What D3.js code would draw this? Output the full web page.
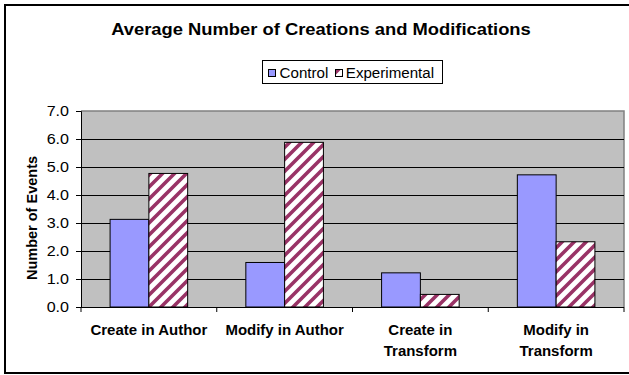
<!DOCTYPE html>
<html><head><meta charset="utf-8">
<script src="https://cdn.jsdelivr.net/npm/d3@7"></script>
<style>body{margin:0;background:#fff}svg{display:block}text{font-family:"Liberation Sans",Arial,sans-serif;fill:#000}</style>
</head><body><svg id="c" width="629" height="375"></svg>
<script>
const categories = [["Create in Author"],["Modify in Author"],["Create in","Transform"],["Modify in","Transform"]];
const seriesNames = ["Control","Experimental"];
const control = [3.13, 1.59, 1.22, 4.72];
const experimental = [4.77, 5.88, 0.45, 2.33];
const yTicks = [0,1,2,3,4,5,6,7];

const svg = d3.select("#c");
const W=629,H=375;
const m = {left:81, right:5, top:111, bottom:68};
const pw = W-m.left-m.right, ph = H-m.top-m.bottom;
function stretch(sel, f){
  sel.each(function(){ const L=this.getComputedTextLength(); d3.select(this).attr("textLength",L*f).attr("lengthAdjust","spacingAndGlyphs"); });
}

// outer frame
svg.append("rect").attr("x",5).attr("y",5).attr("width",640).attr("height",368)
  .attr("fill","#fff").attr("stroke","#000").attr("stroke-width",2);

const P = 12;
const defs = svg.append("defs");
const pat = defs.append("pattern").attr("id","diag").attr("patternUnits","userSpaceOnUse")
  .attr("width",P).attr("height",P);
pat.append("rect").attr("width",P).attr("height",P).attr("fill","#fff");
pat.append("path").attr("d",`M-3,${P+3} L${P+3},-3 M-3,3 L3,-3 M${P-3},${P+3} L${P+3},${P-3}`)
  .attr("stroke","#993366").attr("stroke-width",3.6);

const idx = d3.range(categories.length);
const x = d3.scaleBand().domain(idx).range([m.left, m.left+pw]).paddingInner(1.5/3.5).paddingOuter(0.75/3.5);
const xs = d3.scaleBand().domain([0,1]).range([0, x.bandwidth()]);
const y = d3.scaleLinear().domain([0,7]).range([m.top+ph, m.top]);

// plot area
svg.append("rect").attr("x",m.left).attr("y",m.top).attr("width",pw).attr("height",ph).attr("fill","#C0C0C0");
svg.append("path").attr("d",`M${m.left},${m.top}H${m.left+pw}V${m.top+ph}`).attr("fill","none").attr("stroke","#808080").attr("stroke-width",1.5);

// gridlines
svg.append("g").selectAll("line").data(yTicks.filter(d=>d>0 && d<7)).join("line")
  .attr("x1",m.left).attr("x2",m.left+pw).attr("y1",d=>Math.round(y(d))+0.5).attr("y2",d=>Math.round(y(d))+0.5)
  .attr("stroke","#000").attr("stroke-width",1);

// bars
const g = svg.append("g");
idx.forEach(i=>{
  g.append("rect").attr("x",x(i)+xs(0)).attr("width",xs.bandwidth()).attr("y",y(control[i])).attr("height",y(0)-y(control[i]))
    .attr("fill","#9999FF").attr("stroke","#000").attr("stroke-width",1);
  g.append("rect").attr("x",x(i)+xs(1)).attr("width",xs.bandwidth()).attr("y",y(experimental[i])).attr("height",y(0)-y(experimental[i]))
    .attr("fill","url(#diag)").attr("stroke","#000").attr("stroke-width",1);
});

// y axis
const ya = d3.axisLeft(y).tickValues(yTicks).tickFormat(d3.format(".1f")).tickSize(5).tickPadding(7);
const yg = svg.append("g").attr("transform",`translate(${m.left},0)`).call(ya);
yg.select(".domain").attr("stroke","#000");
yg.selectAll("text").attr("font-size",14).attr("fill","#000").attr("font-family","Liberation Sans, Arial");
stretch(yg.selectAll("text"), 1.15);

// x axis
const boundaries = d3.range(categories.length+1).map(i=>m.left + i*pw/categories.length);
svg.append("line").attr("x1",m.left).attr("x2",m.left+pw).attr("y1",y(0)+0.5).attr("y2",y(0)+0.5).attr("stroke","#000");
svg.append("g").selectAll("line").data(boundaries).join("line")
  .attr("x1",d=>d).attr("x2",d=>d).attr("y1",y(0)).attr("y2",y(0)+5).attr("stroke","#000");
const xl = svg.append("g");
idx.forEach(i=>{
  categories[i].forEach((ln,k)=>{
    const t = xl.append("text").attr("x",x(i)+x.bandwidth()/2).attr("y",335+k*21).attr("text-anchor","middle")
      .attr("font-size",14).attr("font-weight","bold").text(ln);
    stretch(t, 1.07);
  });
});

// y title
svg.append("text").attr("transform","translate(37,218) rotate(-90)").attr("text-anchor","middle")
  .attr("font-size",14.5).attr("font-weight","bold").text("Number of Events");

// title
const tt = svg.append("text").attr("x",321).attr("y",35).attr("text-anchor","middle").attr("font-size",17).attr("font-weight","bold")
  .text("Average Number of Creations and Modifications");
stretch(tt, 1.08);

// legend
const lg = svg.append("g");
lg.append("rect").attr("x",262.5).attr("y",60.5).attr("width",180).attr("height",23).attr("fill","#fff").attr("stroke","#000");
const items = [{n:seriesNames[0],f:"#9999FF",x:268,tx:279.6},{n:seriesNames[1],f:"url(#diag)",x:335,tx:345.8}];
items.forEach(it=>{
  lg.append("rect").attr("x",it.x+0.5).attr("y",69.5).attr("width",7).attr("height",7).attr("fill",it.f).attr("stroke","#000");
  const t = lg.append("text").attr("x",it.tx).attr("y",77.5).attr("font-size",14).text(it.n);
  stretch(t, 1.08);
});
</script></body></html>
